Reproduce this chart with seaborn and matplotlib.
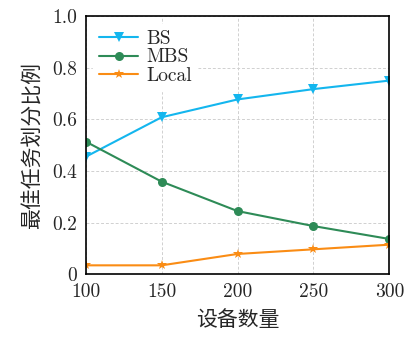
import matplotlib
matplotlib.use("Agg")
import matplotlib.pyplot as plt
import seaborn as sns
import pandas as pd

devices = [100, 150, 200, 250, 300]
bs = [0.455, 0.608, 0.677, 0.717, 0.750]
mbs = [0.514, 0.359, 0.245, 0.187, 0.137]
local = [0.035, 0.035, 0.079, 0.097, 0.115]
series_names = ["BS", "MBS", "Local"]
yticks = [0, 0.2, 0.4, 0.6, 0.8, 1.0]
ytick_labels = ["0", "0.2", "0.4", "0.6", "0.8", "1.0"]

sns.set_style("white")
plt.rcParams['font.family'] = ['cmr10', 'Noto Sans CJK SC', 'DejaVu Sans']
plt.rcParams['axes.formatter.use_mathtext'] = True

df = pd.DataFrame({
    "x": devices * 3,
    "y": bs + mbs + local,
    "s": [series_names[0]] * 5 + [series_names[1]] * 5 + [series_names[2]] * 5,
})

colors = {"BS": "#14B6EE", "MBS": "#2E8B57", "Local": "#FA8C14"}
markers = {"BS": "v", "MBS": "o", "Local": "*"}
msizes = {"BS": 7, "MBS": 6.5, "Local": 7.5}

fig = plt.figure(figsize=(4.06, 3.40), dpi=100)
ax = fig.add_axes([0.211, 0.193, 0.748, 0.760])

for name in series_names:
    sub = df[df["s"] == name]
    sns.lineplot(data=sub, x="x", y="y", ax=ax, color=colors[name],
                 marker=markers[name], markersize=msizes[name],
                 markeredgewidth=0, linewidth=1.5, label=name)

ax.set_xlim(100, 300)
ax.set_ylim(0, 1.0)
ax.set_xticks(devices)
ax.set_xticklabels([str(d) for d in devices])
ax.set_yticks(yticks)
ax.set_yticklabels(ytick_labels)
ax.grid(True, linestyle=(0, (3, 2)), color="#D0D0D0", linewidth=0.7)
ax.set_axisbelow(True)
ax.tick_params(direction="in", length=4, width=1, labelsize=14, pad=6)
for sp in ax.spines.values():
    sp.set_color("black")
    sp.set_linewidth(1.2)

ax.set_xlabel("设备数量", fontsize=15, family=['Noto Sans CJK SC'],
              fontweight='light', labelpad=6)
ax.set_ylabel("最佳任务划分比例", fontsize=15, family=['Noto Sans CJK SC'],
              fontweight='light', labelpad=6)

leg = ax.legend(loc="upper left", fontsize=14, frameon=True, fancybox=False,
                edgecolor="white", framealpha=1.0, borderpad=0.3,
                labelspacing=0.05, handlelength=2.0, handletextpad=0.4,
                borderaxespad=0.4)

fig.savefig("out.png", dpi=100)
